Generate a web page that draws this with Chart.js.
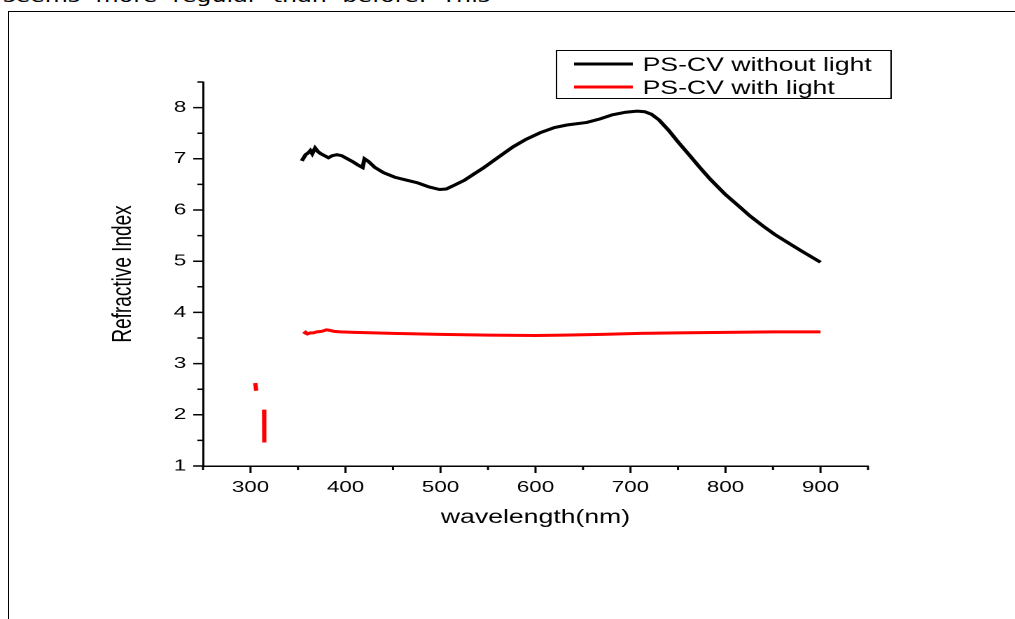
<!DOCTYPE html>
<html>
<head>
<meta charset="utf-8">
<script src="https://cdn.jsdelivr.net/npm/chart.js@4.4.1/dist/chart.umd.min.js"></script>
<style>
  html, body { margin: 0; padding: 0; background: #fff; overflow: hidden; }
  body { width: 1015px; height: 619px; position: relative; }
  /* the scanned page is stretched sideways, so the chart is drawn narrow and widened */
  #topText {
    position: absolute; left: 3px; top: -12px; white-space: nowrap;
    font: 17px/17px "DejaVu Sans", sans-serif; word-spacing: 5.5px; color: #000;
    transform: scaleX(1.4); transform-origin: 0 0;
  }
  #frame {
    position: absolute; left: 8px; top: 11px; right: -5px; bottom: -5px;
    border-left: 1px solid #000; border-top: 1px solid #000;
  }
  #wrap {
    position: absolute; left: 0; top: 0; width: 725px; height: 619px;
    transform: scaleX(1.4); transform-origin: 0 0;
  }
</style>
</head>
<body>
<div id="topText">seems more regular than before. This</div>
<div id="frame"></div>
<div id="wrap"><canvas id="refChart" width="725" height="619"></canvas></div>
<script>
// PS-CV without light (black)
var wavelengthDark = [354, 358, 361, 363, 365, 368, 371, 374, 378, 382, 386, 391, 396, 402, 408, 413, 418, 420,
  424, 431, 440, 452, 465, 476, 488, 499, 506, 513, 525, 535, 545, 560, 576, 590, 605, 620, 633, 654, 668,
  681, 695, 707, 715, 722, 730, 740, 750, 763, 773, 784, 800, 815, 826, 840, 852, 865, 880, 890, 900];
var indexDark = [6.96, 7.08, 7.12, 7.16, 7.10, 7.21, 7.14, 7.10, 7.06, 7.02, 7.06, 7.08, 7.06, 7.00, 6.94, 6.88, 6.83, 7.00,
  6.95, 6.83, 6.73, 6.64, 6.58, 6.53, 6.45, 6.40, 6.41, 6.47, 6.58, 6.70, 6.82, 7.02, 7.23, 7.38, 7.51, 7.61, 7.66, 7.71, 7.78,
  7.86, 7.91, 7.93, 7.92, 7.87, 7.76, 7.56, 7.33, 7.05, 6.83, 6.60, 6.30, 6.06, 5.88, 5.68, 5.52, 5.37, 5.20, 5.09, 4.98];

// PS-CV with light (red), null = gap in the curve
var wavelengthLight = [305, 306, 310, 314.3, 314.6, 314.2, 314.7, 330, 356, 358, 360, 363, 366, 370, 375, 380, 383,
  388, 395, 410, 450, 500, 550, 600, 630, 670, 710, 750, 800, 850, 900];
var indexLight = [2.62, 2.47, null, 2.10, 1.60, 1.90, 1.46, null, 3.58, 3.61, 3.58, 3.60, 3.60, 3.62, 3.63, 3.66, 3.65,
  3.63, 3.62, 3.61, 3.59, 3.57, 3.555, 3.55, 3.555, 3.57, 3.59, 3.60, 3.61, 3.62, 3.62];

var seriesLabels = ['PS-CV without light', 'PS-CV with light'];
var seriesColors = ['#000000', '#ff0000'];

var xTickValues = [250, 300, 350, 400, 450, 500, 550, 600, 650, 700, 750, 800, 850, 900, 950];
var xTickLabels = ['', '300', '', '400', '', '500', '', '600', '', '700', '', '800', '', '900', ''];
var yTickValues = [1, 1.5, 2, 2.5, 3, 3.5, 4, 4.5, 5, 5.5, 6, 6.5, 7, 7.5, 8, 8.5];
var yTickLabels = ['1', '', '2', '', '3', '', '4', '', '5', '', '6', '', '7', '', '8', ''];

function toPoints(xs, ys) {
  return xs.map(function(v, i) { return {x: v, y: ys[i]}; });
}

var FONT = '"Liberation Sans", Arial, sans-serif';

// Origin style ticks (outward, major/minor) and the boxed legend
var originDecor = {
  id: 'originDecor',
  afterDraw: function(chart) {
    var ctx = chart.ctx, x = chart.scales.x, y = chart.scales.y;
    ctx.save();
    ctx.strokeStyle = '#000';
    ctx.lineWidth = 1.5;
    ctx.beginPath();
    xTickValues.forEach(function(v, i) {
      var px = x.getPixelForValue(v);
      var len = xTickLabels[i] ? 7 : 4;
      ctx.moveTo(px, x.top);
      ctx.lineTo(px, x.top + len);
    });
    yTickValues.forEach(function(v, i) {
      var py = y.getPixelForValue(v);
      var len = yTickLabels[i] ? 7 : 4;
      ctx.moveTo(y.right, py);
      ctx.lineTo(y.right - len, py);
    });
    ctx.stroke();

    // legend
    ctx.lineWidth = 1;
    ctx.strokeRect(397.5, 50.5, 239, 48);
    ctx.font = '19px ' + FONT;
    ctx.fillStyle = '#000';
    ctx.textBaseline = 'alphabetic';
    chart.data.datasets.forEach(function(ds, i) {
      var ly = 64 + i * 23;
      ctx.strokeStyle = ds.borderColor;
      ctx.lineWidth = 3;
      ctx.beginPath();
      ctx.moveTo(410, ly);
      ctx.lineTo(452, ly);
      ctx.stroke();
      ctx.fillText(ds.label, 459, ly + 7);
    });
    ctx.restore();
  }
};

var ctx = document.getElementById('refChart').getContext('2d');
var refChart = new Chart(ctx, {
  type: 'line',
  data: {
    datasets: [{
      label: seriesLabels[0],
      data: toPoints(wavelengthDark, indexDark),
      borderColor: seriesColors[0],
      borderWidth: 3,
      pointRadius: 0,
      tension: 0,
      spanGaps: false
    }, {
      label: seriesLabels[1],
      data: toPoints(wavelengthLight, indexLight),
      borderColor: seriesColors[1],
      borderWidth: 3,
      pointRadius: 0,
      tension: 0,
      spanGaps: false
    }]
  },
  options: {
    responsive: false,
    animation: false,
    devicePixelRatio: 2,
    layout: { padding: { left: 0, right: 105, top: 82, bottom: 73 } },
    plugins: {
      legend: { display: false },
      tooltip: { enabled: false }
    },
    scales: {
      x: {
        type: 'linear',
        min: 250,
        max: 950,
        afterBuildTicks: function(scale) {
          scale.ticks = xTickValues.map(function(v) { return {value: v}; });
        },
        afterFit: function(scale) { scale.height = 80; },
        grid: { display: false, drawTicks: false },
        border: { display: true, color: '#000', width: 1.5 },
        ticks: {
          autoSkip: false,
          maxRotation: 0,
          padding: 12,
          color: '#000',
          font: { family: FONT, size: 16 },
          callback: function(value, i) { return xTickLabels[i]; }
        },
        title: {
          display: true,
          text: 'wavelength(nm)',
          color: '#000',
          font: { family: FONT, size: 19 },
          padding: { top: 0, bottom: 17 }
        }
      },
      y: {
        type: 'linear',
        min: 1,
        max: 8.5,
        afterBuildTicks: function(scale) {
          scale.ticks = yTickValues.map(function(v) { return {value: v}; });
        },
        afterFit: function(scale) { scale.width = 145; },
        grid: { display: false, drawTicks: false },
        border: { display: true, color: '#000', width: 1.5 },
        ticks: {
          autoSkip: false,
          padding: 12,
          color: '#000',
          font: { family: FONT, size: 16 },
          callback: function(value, i) { return yTickLabels[i]; }
        },
        title: {
          display: true,
          text: 'Refractive Index',
          color: '#000',
          font: { family: FONT, size: 19 },
          padding: { top: 77, bottom: 0 }
        }
      }
    }
  },
  plugins: [originDecor]
});
</script>
</body>
</html>
